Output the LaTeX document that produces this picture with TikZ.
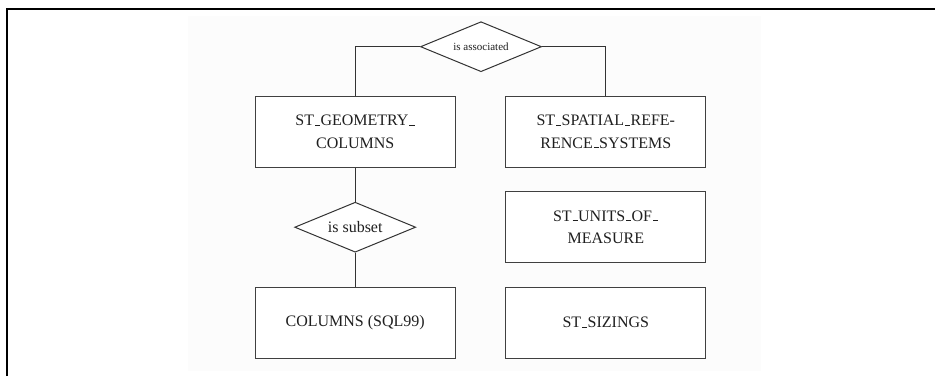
\documentclass[tikz,border=0pt]{standalone}
\usepackage{fontspec}
\setmainfont{Liberation Serif}
\usetikzlibrary{shapes.geometric}
\newcommand\usc{\leavevmode\kern.06em\vbox{\hrule width.32em height .7pt}\kern.02em}
\begin{document}
\begin{tikzpicture}[x=1pt,y=-1pt,
  entity/.style={draw=black!75, line width=1pt, fill=white, text=black!88,
    minimum width=200pt, minimum height=71pt, align=center, inner sep=0pt,
    font=\fontsize{16}{22.5}\selectfont},
  relation/.style={diamond, draw=black!80, line width=1pt, fill=white, text=black!88,
    minimum width=121pt, minimum height=50pt, inner sep=0pt, aspect=2.4},
  link/.style={draw=black!80, line width=1pt},
  frameline/.style={draw=black, line width=2pt}]
\useasboundingbox (0,0) rectangle (935,376);
\fill[black!1] (188,16) rectangle (761,371);
\draw[frameline] (7,376) -- (7,9) -- (935,9);

\node[relation, font=\fontsize{11}{13}\selectfont] (assoc) at (481,46.7) {is associated};
\node[entity] (geo) at (355.2,131.6) {ST\usc GEOMETRY\usc\\COLUMNS};
\node[entity] (srs) at (605.8,131.6) {ST\usc SPATIAL\usc REFE-\\RENCE\usc SYSTEMS};
\node[relation, font=\fontsize{16}{18}\selectfont] (subset) at (355.2,227.2) {is subset};
\node[entity] (units) at (605.8,227.2) {ST\usc UNITS\usc OF\usc\\MEASURE};
\node[entity] (cols) at (355.2,322.5) {COLUMNS (SQL99)};
\node[entity] (sizings) at (605.8,322.5) {ST\usc SIZINGS};

\draw[link] (assoc.west) -| (geo.north);
\draw[link] (assoc.east) -| (srs.north);
\draw[link] (geo.south) -- (subset.north);
\draw[link] (subset.south) -- (cols.north);
\end{tikzpicture}
\end{document}
